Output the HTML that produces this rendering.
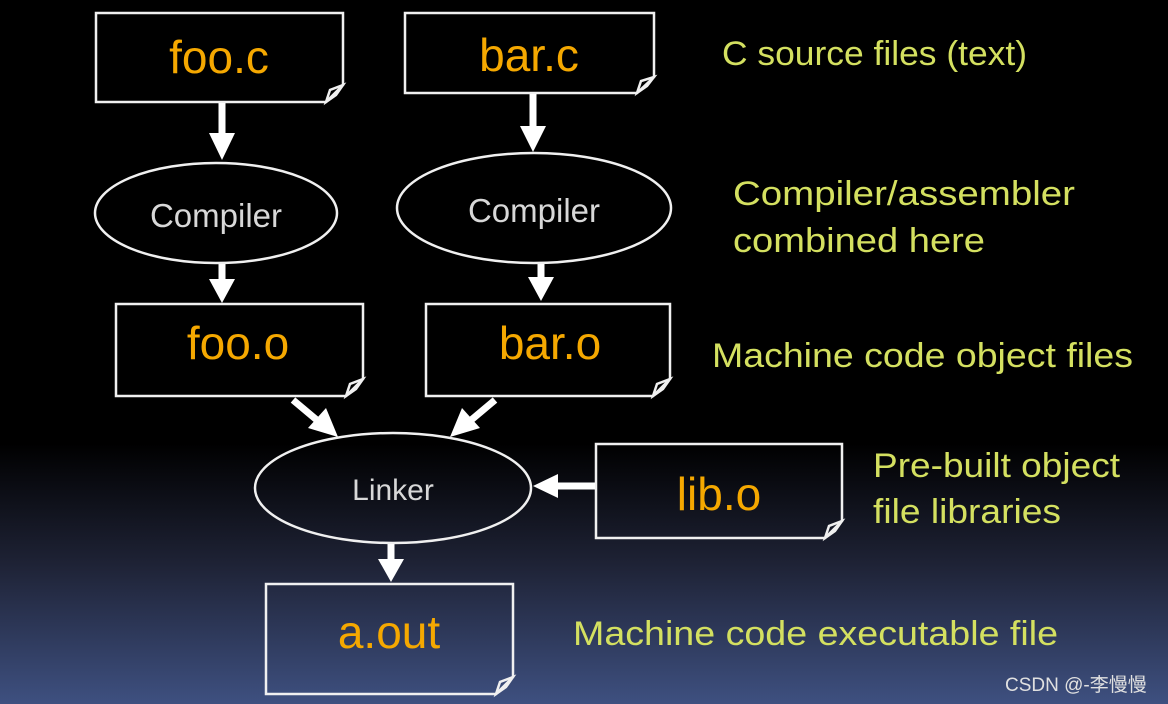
<!DOCTYPE html>
<html><head><meta charset="utf-8"><style>
html,body{margin:0;padding:0;width:1168px;height:704px;overflow:hidden;background:#000}
svg{display:block}
.f{font-family:"Liberation Sans",sans-serif}
</style></head><body>
<svg width="1168" height="704" viewBox="0 0 1168 704" xmlns="http://www.w3.org/2000/svg">
<defs>
<linearGradient id="bg" x1="0" y1="0" x2="0" y2="1">
<stop offset="0" stop-color="#000"/>
<stop offset="0.63" stop-color="#000"/>
<stop offset="0.8" stop-color="#1e2235"/>
<stop offset="1" stop-color="#3e5080"/>
</linearGradient>
</defs>
<rect width="1168" height="704" fill="url(#bg)"/>
<g fill="none" stroke="#f0f0f0" stroke-width="2.5">
<!-- boxes -->
<path d="M96 13H343V85L326 102H96Z"/><path d="M326 102L330 90L343 85L336 95Z"/>
<path d="M405 13H654V77L637 93H405Z"/><path d="M637 93L641 81L654 77L647 86Z"/>
<path d="M116 304H363V379L346 396H116Z"/><path d="M346 396L350 384L363 379L356 389Z"/>
<path d="M426 304H670V379L653 396H426Z"/><path d="M653 396L657 384L670 379L663 389Z"/>
<path d="M596 444H842V521L825 538H596Z"/><path d="M825 538L829 526L842 521L835 531Z"/>
<path d="M266 584H513V677L496 694H266Z"/><path d="M496 694L500 682L513 677L506 687Z"/>
<!-- ellipses -->
<ellipse cx="216" cy="213" rx="121" ry="50"/>
<ellipse cx="534" cy="208" rx="137" ry="55"/>
<ellipse cx="393" cy="488" rx="138" ry="55"/>
</g>
<g fill="#fff" stroke="#fff">
<g stroke-width="7">
<line x1="222" y1="103" x2="222" y2="135"/>
<line x1="533" y1="94" x2="533" y2="128"/>
<line x1="222" y1="264" x2="222" y2="282"/>
<line x1="541" y1="264" x2="541" y2="280"/>
<line x1="293" y1="400" x2="318" y2="421"/>
<line x1="495" y1="400" x2="470" y2="421"/>
<line x1="595" y1="486" x2="555" y2="486"/>
<line x1="391" y1="544" x2="391" y2="562"/>
</g>
<g stroke="none">
<polygon points="209,133 235,133 222,160"/>
<polygon points="520,126 546,126 533,152"/>
<polygon points="209,279 235,279 222,303"/>
<polygon points="528,277 554,277 541,301"/>
<polygon points="308,428 326,408 338,437"/>
<polygon points="480,428 462,408 450,437"/>
<polygon points="558,474 558,498 533,486"/>
<polygon points="378,559 404,559 391,582"/>
</g>
</g>
<g class="f" fill="#f5a800" font-size="46" text-anchor="middle">
<text x="219" y="73">foo.c</text>
<text x="529" y="71">bar.c</text>
<text x="238" y="359">foo.o</text>
<text x="550" y="359">bar.o</text>
<text x="719" y="510">lib.o</text>
<text x="389" y="648">a.out</text>
</g>
<g class="f" fill="#d8d8d8" text-anchor="middle">
<text x="216" y="227" font-size="33">Compiler</text>
<text x="534" y="222" font-size="33">Compiler</text>
<text x="393" y="500" font-size="30">Linker</text>
</g>
<g class="f" fill="#d4e060" font-size="34">
<text x="722" y="65" textLength="305" lengthAdjust="spacingAndGlyphs">C source files (text)</text>
<text x="733" y="205" textLength="342" lengthAdjust="spacingAndGlyphs">Compiler/assembler</text>
<text x="733" y="252" textLength="252" lengthAdjust="spacingAndGlyphs">combined here</text>
<text x="712" y="367" textLength="421" lengthAdjust="spacingAndGlyphs">Machine code object files</text>
<text x="873" y="477" textLength="247" lengthAdjust="spacingAndGlyphs">Pre-built object</text>
<text x="873" y="523" textLength="188" lengthAdjust="spacingAndGlyphs">file libraries</text>
<text x="573" y="645" textLength="485" lengthAdjust="spacingAndGlyphs">Machine code executable file</text>
</g>
<text x="1005" y="691" font-family="'Liberation Sans','Noto Sans CJK SC',sans-serif" font-size="19" fill="#e0e0e0">CSDN @-李慢慢</text>
</svg>
</body></html>
